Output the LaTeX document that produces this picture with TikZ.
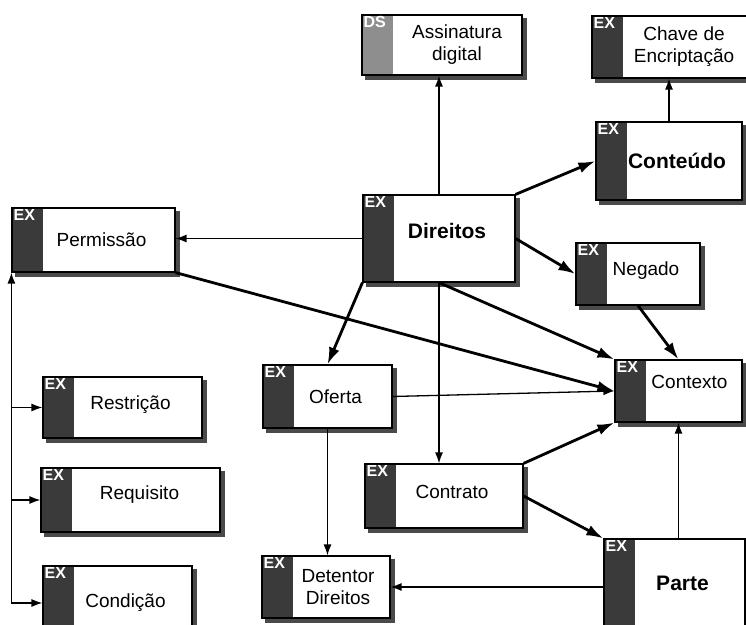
\documentclass[tikz,border=0pt]{standalone}
\usepackage{fontspec}
\setmainfont{Liberation Sans}
\usetikzlibrary{arrows.meta,backgrounds}

\definecolor{tabdark}{HTML}{3A3A3A}
\definecolor{tablight}{HTML}{8E8E8E}
\definecolor{shadowgray}{HTML}{4A4A4A}
\newcommand{\tagfont}{\fontsize{16}{16}\selectfont\bfseries}
\newcommand{\lblfont}{\fontsize{19}{22}\selectfont}
\newcommand{\bigfont}{\fontsize{21}{24}\selectfont\bfseries}

\begin{document}
\begin{tikzpicture}[x=1pt,y=1pt,
    ent/.style={draw=black,line width=1.2pt,fill=white,inner sep=0pt,
      path picture={\fill[#1] (path picture bounding box.north west)
        rectangle ([xshift=31pt]path picture bounding box.south west);}},
    ent/.default=tabdark,
    tag/.style={anchor=north west,inner sep=2pt,text=white,font=\tagfont},
    txt/.style={xshift=8pt,font=\lblfont,align=center},
    big/.style={xshift=8pt,font=\bigfont},
    link/.style={-{Latex[length=11pt,width=8pt]},line width=1.3pt},
    heavy/.style={-{Latex[length=17pt,width=11pt]},line width=2.8pt}]
  \useasboundingbox (0,0) rectangle (746,624);
%  entidades

  \node[ent=tablight,minimum width=160pt,minimum height=60pt,label={[tag]north west:DS},
        label={[txt,xshift=7pt]center:Assinatura\\digital}] (assin) at (442,579) {};
  \node[ent,minimum width=160pt,minimum height=62pt,label={[tag]north west:EX},
        label={[txt,xshift=4pt]center:Chave de\\Encriptação}] (chave) at (672,577) {};
  \node[ent,minimum width=146pt,minimum height=78pt,label={[tag]north west:EX},
        label={[big]center:Conteúdo}] (conteudo) at (669,463) {};
  \node[ent,minimum width=152pt,minimum height=87pt,label={[tag]north west:EX},
        label={[big,yshift=8pt]center:Direitos}] (direitos) at (439,385.5) {};
  \node[ent,minimum width=163pt,minimum height=64pt,label={[tag]north west:EX},
        label={[txt]center:Permissão}] (permissao) at (93.5,384) {};
  \node[ent,minimum width=124pt,minimum height=62pt,label={[tag]north west:EX},
        label={[txt,yshift=3pt]center:Negado}] (negado) at (638,350) {};
  \node[ent,minimum width=129pt,minimum height=63pt,label={[tag]north west:EX},
        label={[txt]center:Oferta}] (oferta) at (327.5,227.5) {};
  \node[ent,minimum width=127pt,minimum height=62pt,label={[tag]north west:EX},
        label={[txt,xshift=3pt,yshift=9pt]center:Contexto}] (contexto) at (678.5,233) {};
  \node[ent,minimum width=158pt,minimum height=64pt,label={[tag]north west:EX},
        label={[txt,yshift=4pt]center:Contrato}] (contrato) at (444,128) {};
  \node[ent,minimum width=141pt,minimum height=89pt,label={[tag]north west:EX},
        label={[big]center:Parte}] (parte) at (674.5,40.5) {};
  \node[ent,minimum width=128pt,minimum height=62pt,label={[tag]north west:EX},
        label={[txt,xshift=4pt]center:Detentor\\Direitos}] (detentor) at (326,37) {};
  \node[ent,minimum width=159pt,minimum height=61pt,label={[tag]north west:EX},
        label={[txt,yshift=3pt]center:Restrição}] (restricao) at (122.5,216.5) {};
  \node[ent,minimum width=179pt,minimum height=64pt,label={[tag]north west:EX},
        label={[txt,xshift=1pt,yshift=5pt]center:Requisito}] (requisito) at (130.5,124) {};
  \node[ent,minimum width=149pt,minimum height=74pt,label={[tag]north west:EX},
        label={[txt]center:Condição}] (condicao) at (117.5,21) {};

  % sombras
  \begin{scope}[on background layer]
    \foreach \n in {assin,chave,conteudo,direitos,permissao,negado,oferta,contexto,
                    contrato,parte,detentor,restricao,requisito,condicao}
      \fill[shadowgray] ([shift={(4pt,-4pt)}]\n.north west) rectangle ([shift={(4pt,-4pt)}]\n.south east);
  \end{scope}

  \coordinate (trunk) at (permissao.south west |- condicao.west);

  \path (direitos.north east) edge[heavy] (conteudo.west)
        (direitos.east)       edge[heavy] (negado.west)
        (direitos.south west) edge[heavy] (oferta.north)
        (direitos.south)      edge[heavy] (contexto.north west)
        (permissao.south east) edge[heavy] (contexto.west)
        (negado.south)        edge[heavy] (contexto.north)
        (contrato.north east) edge[heavy] (contexto.south west)
        (contrato.east)       edge[heavy] (parte.north west)
        (oferta.east)         edge[link]  (contexto.west);

  \draw[link] (direitos.north) -- (direitos.north |- assin.south);
  \draw[link] (conteudo.north) -- (conteudo.north |- chave.south);
  \draw[link] (direitos.west) -- (direitos.west -| permissao.east);
  \draw[link] (direitos.south) -- (direitos.south |- contrato.north);
  \draw[link] (oferta.south) -- (oferta.south |- detentor.north);
  \draw[link] (contexto.south |- parte.north) -- (contexto.south);
  \draw[link] (parte.west |- detentor.east) -- (detentor.east);

  \draw[link] (trunk) -- (permissao.south west);
  \draw[link] (permissao.south west |- restricao.west) -- (restricao.west);
  \draw[link] (permissao.south west |- requisito.west) -- (requisito.west);
  \draw[link] (trunk) -- (condicao.west);
\end{tikzpicture}
\end{document}
